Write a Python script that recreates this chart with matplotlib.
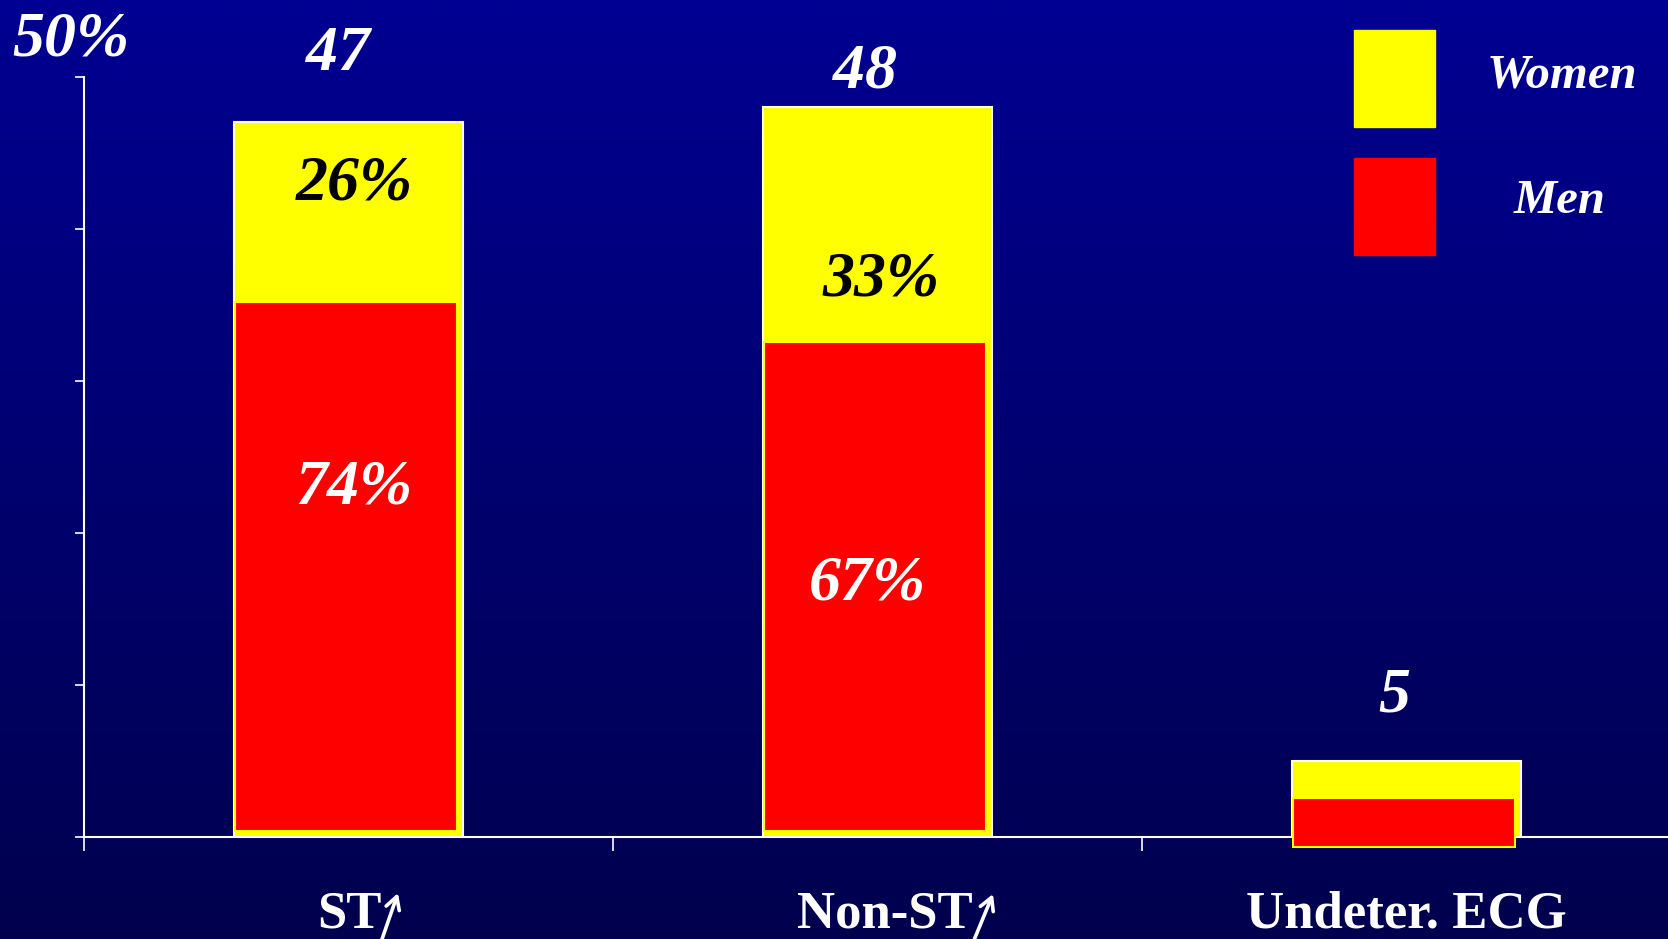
import numpy as np
import matplotlib
matplotlib.use("Agg")
import matplotlib.pyplot as plt
from matplotlib.patches import Rectangle

# ---- data ----
categories = ["ST", "Non-ST", "Undeter. ECG"]
has_arrow = [True, True, False]   # "elevation" arrow after the label
totals = [47, 48, 5]              # share of patients, %
men_share = [74, 67, 64]          # % of each group that are men
men_base = [0.4, 0.4, -0.65]      # where the red (men) block starts
men_labels = ["74%", "67%", ""]
women_labels = ["26%", "33%", ""]
total_labels = ["47", "48", "5"]
legend_labels = ["Women", "Men"]

W, H = 1668, 939
fig = plt.figure(figsize=(W / 100, H / 100), dpi=100)

# vertical blue gradient background
bg = fig.add_axes([0, 0, 1, 1], zorder=-10)
top = np.array([0, 0, 146]) / 255
bot = np.array([0, 0, 78]) / 255
t = np.linspace(0, 1, 256)[:, None]
grad = (top[None, :] * (1 - t) + bot[None, :] * t)[:, None, :]
bg.imshow(grad, aspect="auto", extent=[0, 1, 0, 1], interpolation="bilinear")
bg.set_axis_off()

# plotting axes (pixel layout: y=0 at 837 px, y=50 at 76.6 px)
x0, y0, ytop = 84, 837, 76.6
ax = fig.add_axes([x0 / W, 1 - y0 / H, 1 - x0 / W, (y0 - ytop) / H])
ax.patch.set_alpha(0)
cat_w = 529.0
ax.set_xlim(0, (W - x0) / cat_w)
ax.set_ylim(0, 50)
py = (y0 - ytop) / 50.0  # px per unit

def ydata(px):
    return (y0 - px) / py

def xdata(px):
    return (px - x0) / cat_w

x = np.arange(len(categories)) + 0.5
men = [tot * s / 100 for tot, s in zip(totals, men_share)]

ax.bar(x, totals, width=0.433, color="#FFFF00", edgecolor="white",
       linewidth=1.5, zorder=2)
ax.bar(x - 0.005, men, width=0.421, bottom=men_base, color="#FF0000",
       edgecolor="#FFFF00", linewidth=1.5, zorder=3, clip_on=False)

# axes styling
for s in ("top", "right"):
    ax.spines[s].set_visible(False)
for s in ("left", "bottom"):
    ax.spines[s].set_color("white")
    ax.spines[s].set_linewidth(1.5)
    ax.spines[s].set_zorder(1.5)
ax.set_yticks(np.arange(0, 51, 10))
ax.set_yticklabels([])
ax.set_xticks([0, 1, 2])
ax.set_xticklabels([])
ax.tick_params(axis="y", direction="out", length=6.5, width=1.2, color="white")
ax.tick_params(axis="x", direction="out", length=10, width=1.2, color="white")

serif = ["Liberation Serif", "DejaVu Serif"]
num_kw = dict(family=serif, weight="bold", style="italic", fontsize=46,
              ha="center", va="baseline", clip_on=False)

# axis max label
ax.text(xdata(71), ydata(55), "50%", color="white", **num_kw)

# totals above bars
tot_px = [(338, 70), (865, 88), (1394, 711)]
for lab, (px, pyy) in zip(total_labels, tot_px):
    ax.text(xdata(px), ydata(pyy), lab, color="white", **num_kw)

# shares inside bars
women_px = [(354, 200), (881, 296)]
men_px = [(354, 503), (867, 600)]
for lab, (px, pyy) in zip(women_labels, women_px):
    ax.text(xdata(px), ydata(pyy), lab, color="black", zorder=5, **num_kw)
for lab, (px, pyy) in zip(men_labels, men_px):
    ax.text(xdata(px), ydata(pyy), lab, color="white", zorder=5, **num_kw)

# category labels, with a slanted thin arrow after the ST ones
cat_base = ydata(928)
cat_anchor = [(382, "right"), (973, "right"), (1406, "center")]
arrow_px = [((380, 945), (398, 893)), ((972, 945), (993, 894)), None]
for lab, arr, (px, ha), apos in zip(categories, has_arrow, cat_anchor, arrow_px):
    ax.text(xdata(px), cat_base, lab, color="white", family=serif,
            weight="bold", fontsize=38, ha=ha, va="baseline", clip_on=False)
    if arr:
        (tx, ty), (hx, hy) = apos
        ax.annotate("", xy=(hx, H - hy), xytext=(tx, H - ty),
                    xycoords="figure pixels", textcoords="figure pixels",
                    arrowprops=dict(arrowstyle="->,head_length=0.9,head_width=0.5",
                                    color="white", lw=2.6, shrinkA=0,
                                    shrinkB=0))

# legend
leg_colors = ["#FFFF00", "#FF0000"]
leg_boxes = [(1354, 30), (1354, 158)]
leg_text = [(1562, 87), (1560, 213)]
for c, (bx, by), lab, (tx, ty) in zip(leg_colors, leg_boxes, legend_labels, leg_text):
    fig.patches.append(Rectangle((bx / W, 1 - (by + 97) / H), 81 / W, 97 / H,
                                 transform=fig.transFigure, color=c))
    fig.text(tx / W, 1 - ty / H, lab, color="white", family=serif,
             weight="bold", style="italic", fontsize=35, ha="center",
             va="baseline")

fig.savefig("out.png", dpi=100)
